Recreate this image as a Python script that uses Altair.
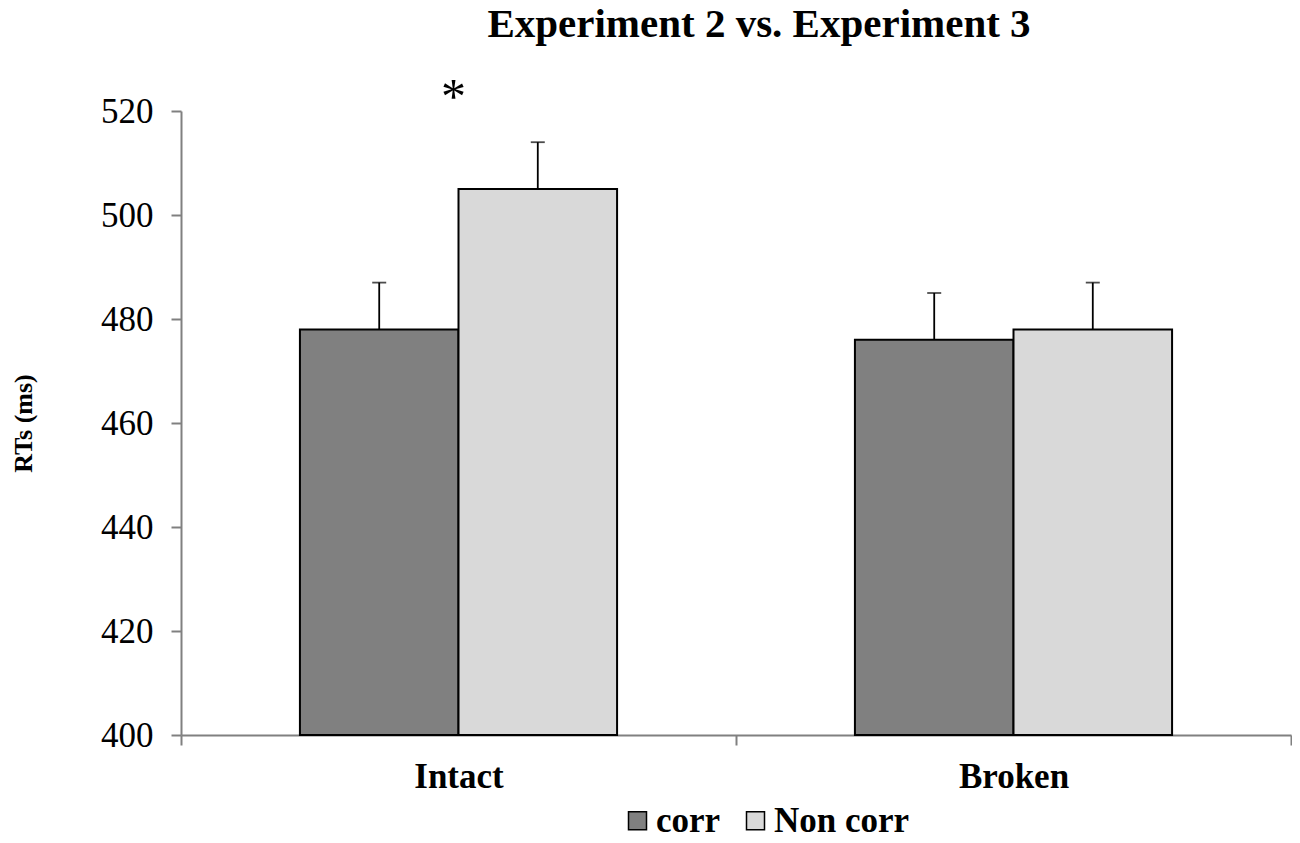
import altair as alt
import pandas as pd

categories = ["Intact", "Broken"]
series = ["corr", "Non corr"]
corr_means = [478, 476]
noncorr_means = [505, 478]
corr_err = [9, 9]
noncorr_err = [9, 9]
y_ticks = [400, 420, 440, 460, 480, 500, 520]
star_category = ["Intact"]
star_value = [522.5]

rows = []
for i, c in enumerate(categories):
    rows.append({"condition": c, "series": "corr", "mean": corr_means[i], "upper": corr_means[i] + corr_err[i], "base": 400})
    rows.append({"condition": c, "series": "Non corr", "mean": noncorr_means[i], "upper": noncorr_means[i] + noncorr_err[i], "base": 400})
df = pd.DataFrame(rows)
star_df = pd.DataFrame({"condition": star_category, "y": star_value, "label": ["*"]})

FONT = "Liberation Serif"

x_enc = alt.X(
    "condition:N", sort=categories,
    scale=alt.Scale(paddingInner=0, paddingOuter=0),
    axis=alt.Axis(title=None, labelFont=FONT, labelFontWeight="bold", labelFontSize=35,
                  labelColor="black", tickBand="extent", domainColor="#808080",
                  tickColor="#808080", tickSize=10, tickWidth=2, domainWidth=2,
                  labelPadding=14, labelAngle=0),
)
xo_enc = alt.XOffset("series:N", sort=series, scale=alt.Scale(paddingOuter=0.75, paddingInner=0))
y_scale = alt.Scale(domain=[400, 520], nice=False, zero=False)

bars = alt.Chart(df).mark_bar(stroke="black", strokeWidth=2).encode(
    x=x_enc,
    xOffset=xo_enc,
    y=alt.Y("mean:Q", scale=y_scale,
            axis=alt.Axis(values=y_ticks, title="RTs (ms)", grid=False, labelFont=FONT,
                          labelFontSize=35, labelColor="black", titleFont=FONT,
                          titleFontSize=26, titleFontWeight="bold", titleColor="black",
                          domainColor="#808080", tickColor="#808080", tickSize=10,
                          tickWidth=2, domainWidth=2, labelPadding=18, titlePadding=64)),
    y2=alt.Y2("base:Q"),
    color=alt.Color("series:N", sort=series,
                    scale=alt.Scale(domain=series, range=["#808080", "#d9d9d9"]),
                    legend=alt.Legend(title=None, orient="none", legendX=439, legendY=692,
                                      direction="horizontal", symbolType="square",
                                      symbolSize=324, symbolStrokeColor="black",
                                      symbolStrokeWidth=1.5, labelFont=FONT,
                                      labelFontSize=35, labelFontWeight="bold",
                                      labelColor="black", columnPadding=17,
                                      labelOffset=1)),
)

stems = alt.Chart(df).mark_rule(color="black", strokeWidth=1.8).encode(
    x=alt.X("condition:N", sort=categories), xOffset=alt.XOffset("series:N", sort=series),
    y=alt.Y("mean:Q"), y2=alt.Y2("upper:Q"),
)
caps = alt.Chart(df).mark_tick(color="black", thickness=1.8, size=14, orient="horizontal").encode(
    x=alt.X("condition:N", sort=categories), xOffset=alt.XOffset("series:N", sort=series),
    y=alt.Y("upper:Q"),
)
star = alt.Chart(star_df).mark_text(font=FONT, fontSize=50, color="black", baseline="middle", dx=-5).encode(
    x=alt.X("condition:N", sort=categories),
    y=alt.Y("y:Q"),
    text="label:N",
)

chart = alt.layer(bars, stems, caps, star).properties(
    width=1110, height=624,
    autosize=alt.AutoSizeParams(type="none"),
    padding={"left": 173, "top": 103, "right": 1, "bottom": 100},
    title=alt.TitleParams("Experiment 2 vs. Experiment 3", font=FONT, fontSize=41,
                          fontWeight="bold", color="black", offset=-5, dx=23,
                          frame="group", baseline="alphabetic"),
).configure_view(stroke=None)

chart.save("out.html", embed_options={"renderer": "svg", "actions": False})
